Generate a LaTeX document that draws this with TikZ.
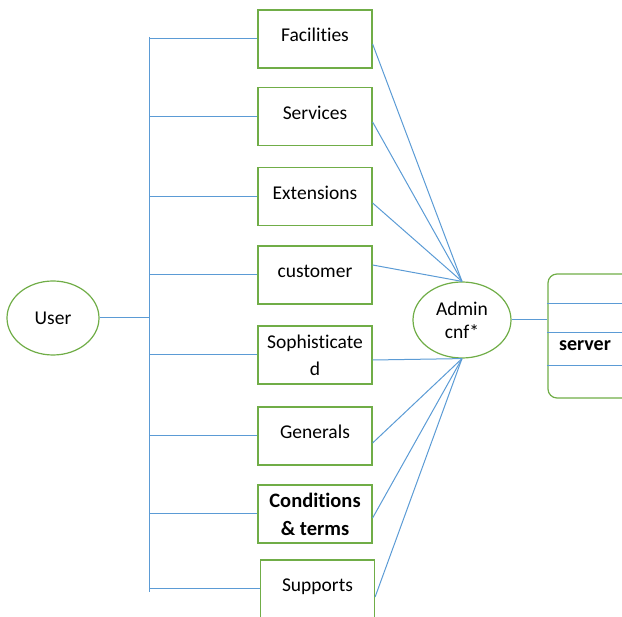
\documentclass[tikz,border=0pt]{standalone}
\usepackage{fontspec}
\setmainfont{Carlito}[Ligatures=NoCommon]
\usetikzlibrary{calc, positioning, shapes.geometric}

\definecolor{boxgreen}{RGB}{112,173,71}
\definecolor{linkblue}{RGB}{91,155,213}

\begin{document}
\begin{tikzpicture}[x=1pt,y=-1pt,
  box/.style={draw=boxgreen, line width=1.2pt, minimum width=114pt, minimum height=58pt, inner sep=1pt, align=center, font=\fontsize{19.5}{27}\selectfont},
  oval/.style={draw=boxgreen, line width=1.2pt, ellipse, minimum width=92pt, minimum height=74pt, inner sep=0pt, align=center, font=\fontsize{19.5}{26}\selectfont},
  link/.style={draw=linkblue, line width=1pt}]
\useasboundingbox (0,0) rectangle (622,617);

% left side
\node[oval] (user) at (53,318) {User};
\coordinate (bustop) at (149,37);
\coordinate (busbot) at (149,592);

% boxes
\node[box] (fac) at (315,39) {\raisebox{8pt}{Facilities}};
\node[box] (ser) at (315,116.5) {\raisebox{8pt}{Services}};
\node[box] (ext) at (315,196.5) {\raisebox{8pt}{Extensions}};
\node[box] (cus) at (315,275) {\raisebox{8pt}{customer}};
\node[box] (sop) at (315,355) {Sophisticate\\d};
\node[box] (gen) at (315,436) {\raisebox{8pt}{Generals}};
\node[box, font=\bfseries\fontsize{20.5}{28}\selectfont] (con) at (315,514) {Conditions\\\& terms};
\node[box] (sup) at (317.5,589) {\raisebox{8pt}{Supports}};

% admin and server
\node[oval, minimum width=98pt, minimum height=76pt] (adm) at (462,320) {\raisebox{-3pt}{Admin}\\cnf*};
\node[draw=boxgreen, line width=1.2pt, rounded corners=9pt, minimum width=92pt, minimum height=124pt] (srv) at (594,336) {};
\node[font=\bfseries\fontsize{20}{24}\selectfont] (srvtext) at (585,346) {server};

% bus
\draw[link] (bustop) -- (busbot);
\draw[link] (user.east) -- (user.east -| bustop);
\foreach \b in {fac,ser,ext,cus,sop,gen,con,sup}
  \draw[link] (\b.west -| bustop) -- (\b.west);

% links to admin
\draw[link] ($(fac.east)+(0,5)$) -- (adm.north);
\draw[link] ($(ser.east)+(0,5.5)$) -- (adm.north);
\draw[link] ($(ext.east)+(0,6.5)$) -- (adm.north);
\draw[link] ($(cus.east)+(0,-10)$) -- (adm.north);
\draw[link] ($(sop.east)+(0,5)$) -- (adm.south);
\draw[link] ($(gen.east)+(0,7)$) -- (adm.south);
\draw[link] ($(con.east)+(0,4)$) -- (adm.south);
\draw[link] ($(sup.east)+(0,8)$) -- (adm.south);
\draw[link] (adm.east) -- (adm.east -| srv.west);

% server rows
\draw[link] (srv.west |- 0,304) -- (622,304);
\draw[link] (srv.west |- 0,333) -- (622,333);
\draw[link] (srv.west |- 0,366) -- (622,366);

\end{tikzpicture}
\end{document}
